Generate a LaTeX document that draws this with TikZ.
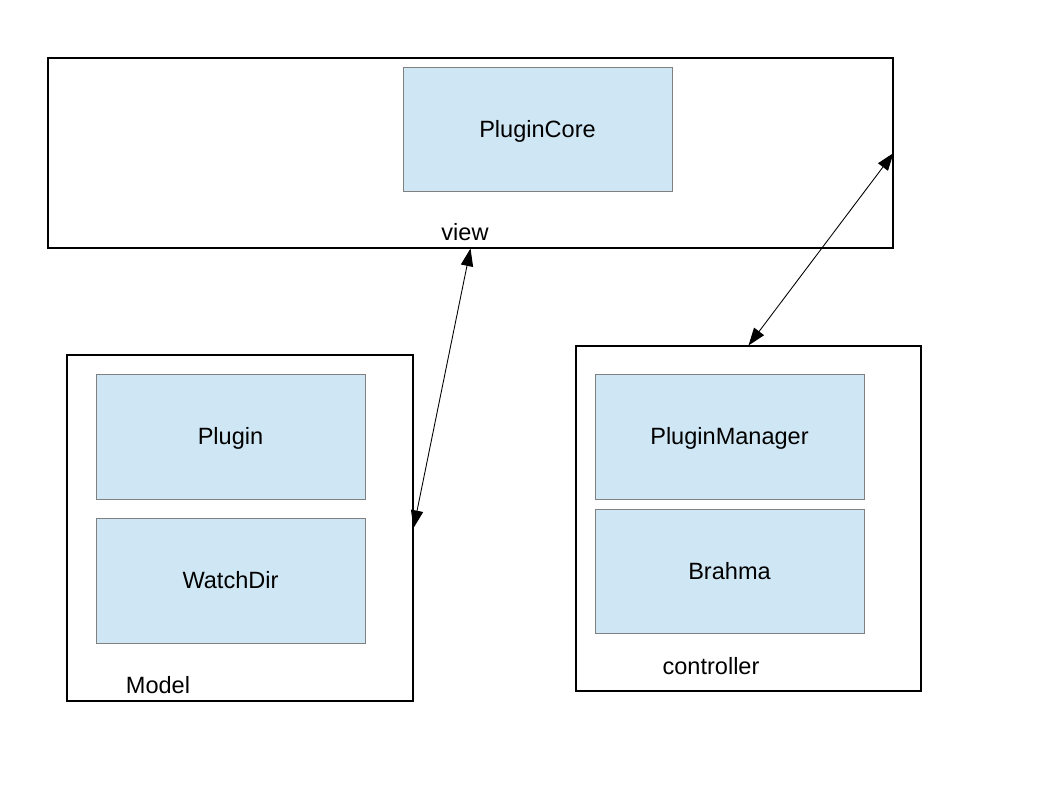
\documentclass[tikz,border=0pt]{standalone}
\usepackage{fontspec}
\setmainfont{Liberation Sans}
\usetikzlibrary{arrows.meta}
\definecolor{ColFill}{RGB}{207,231,245}
\definecolor{ColEdge}{RGB}{128,128,128}
\tikzstyle{LayerBox}=[rectangle,draw=black,line width=0.6pt,inner sep=0pt]
\tikzstyle{ClassBox}=[rectangle,draw=ColEdge,fill=ColFill,line width=0.5pt,inner sep=0pt,
minimum width=5.38cm,minimum height=2.5cm,text height=9.6pt,text depth=0pt,
font=\fontsize{13.4}{16}\selectfont]
\tikzstyle{LayerLabel}=[inner sep=0pt,font=\fontsize{13.4}{16}\selectfont]
\tikzstyle{LinkArrow}=[black,line width=0.5pt,{Triangle[length=10pt,width=7pt]}-{Triangle[length=10pt,width=7pt]}]

\begin{document}
\begin{tikzpicture}
        \useasboundingbox[fill=white](0,0)rectangle(21.16,-15.88);
        % layers
        \node[LayerBox,minimum width=16.9cm,minimum height=3.8cm](view)at(9.41,-3.06){};
        \node[LayerBox,minimum width=6.92cm,minimum height=6.92cm](model)at(4.80,-10.56){};
        \node[LayerBox,minimum width=6.9cm,minimum height=6.9cm](controller)at(14.97,-10.37){};
        % classes
        \node[ClassBox,minimum height=2.48cm](plugincore)at(10.75,-2.58){PluginCore};
        \node[ClassBox](plugin)at(4.61,-8.73){Plugin};
        \node[ClassBox](watchdir)at(4.61,-11.61){WatchDir};
        \node[ClassBox](pluginmanager)at(14.59,-8.73){PluginManager};
        \node[ClassBox,minimum height=2.48cm](brahma)at(14.59,-11.42){Brahma};
        % labels
        \node[LayerLabel](viewlabel)at(9.30,-4.64){view};
        \node[LayerLabel](modellabel)at(3.16,-13.70){Model};
        \node[LayerLabel](controllerlabel)at(14.22,-13.32){controller};
        % links
        \draw[LinkArrow](view.south)--(model.east);
        \draw[LinkArrow](view.east)--(controller.north);
    \end{tikzpicture}
\end{document}
